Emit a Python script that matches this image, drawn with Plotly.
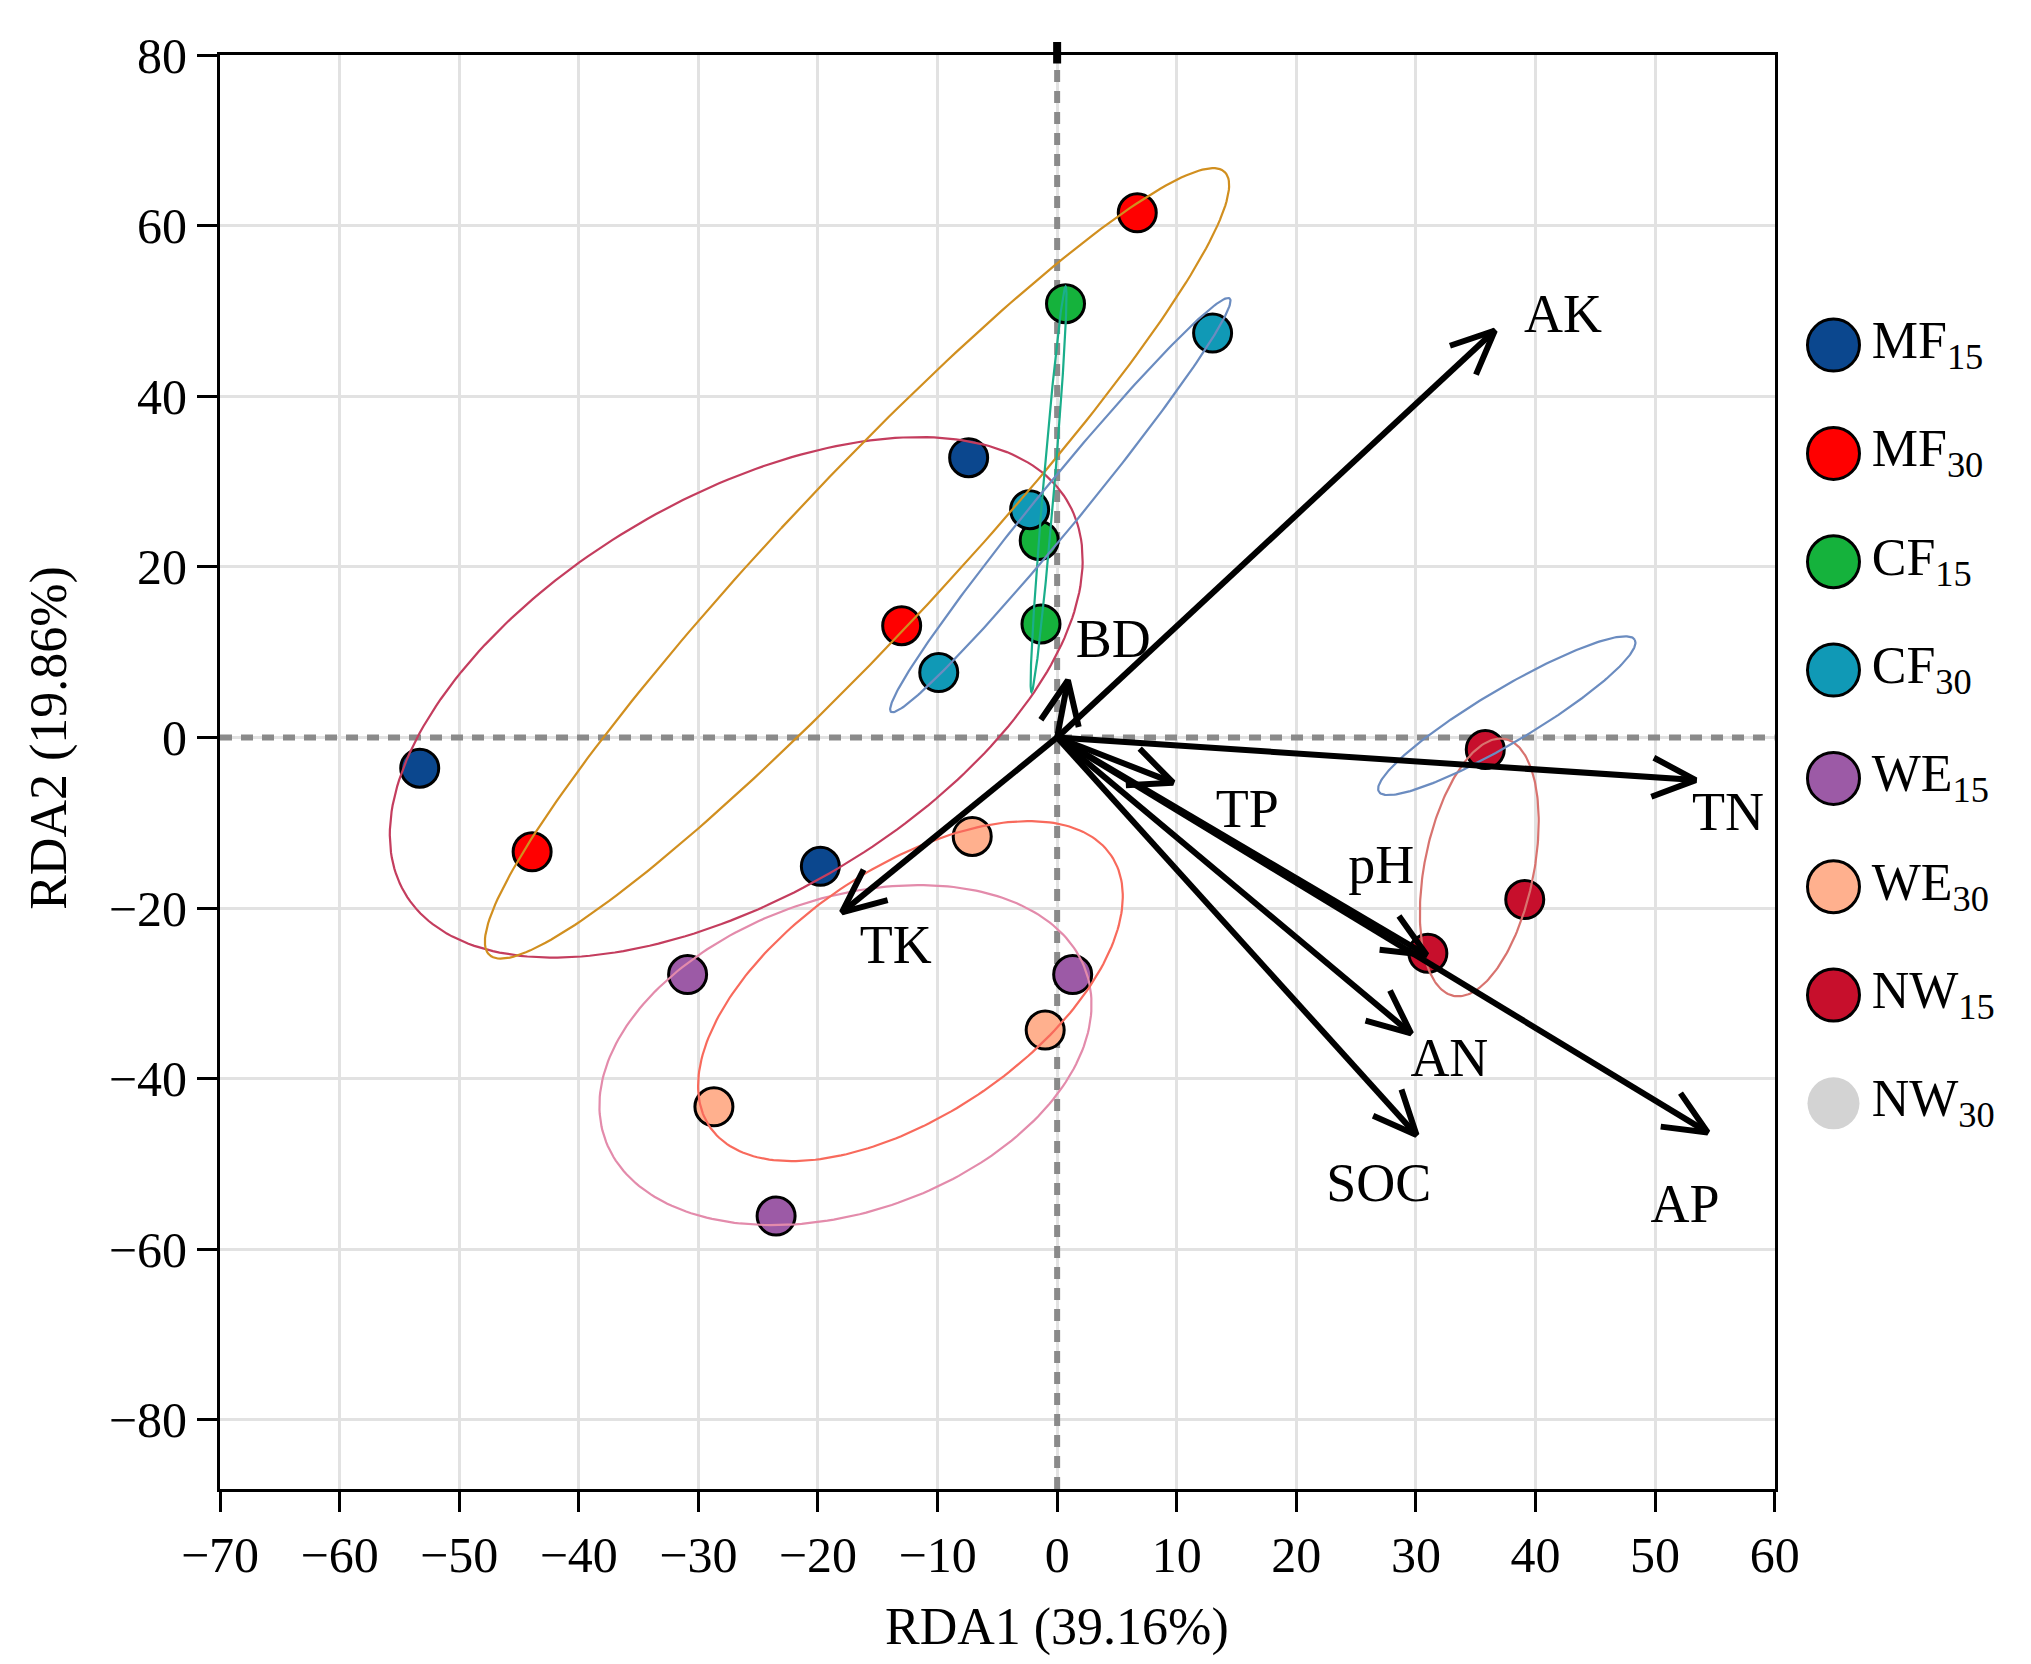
import numpy as np
import plotly.graph_objects as go

# sample scores on the first two RDA axes
groups = ["MF15", "MF30", "CF15", "CF30", "WE15", "WE30", "NW15", "NW30"]
legend_labels = ["MF<sub>15</sub>", "MF<sub>30</sub>", "CF<sub>15</sub>", "CF<sub>30</sub>",
                 "WE<sub>15</sub>", "WE<sub>30</sub>", "NW<sub>15</sub>", "NW<sub>30</sub>"]

mf15_x = [-53.3, -7.4, -19.8]
mf15_y = [-3.6, 32.8, -15.1]
mf30_x = [6.7, -13.0, -43.9]
mf30_y = [61.5, 13.1, -13.4]
cf15_x = [0.7, -1.5, -1.35]
cf15_y = [50.85, 23.1, 13.3]
cf30_x = [13.0, -2.3, -9.9]
cf30_y = [47.4, 26.7, 7.6]
we15_x = [-30.9, 1.3, -23.5]
we15_y = [-27.8, -27.8, -56.1]
we30_x = [-7.1, -1.0, -28.7]
we30_y = [-11.6, -34.3, -43.3]
nw15_x = [35.8, 39.1, 31.0]
nw15_y = [-1.4, -19.0, -25.3]

# NW30 samples are switched off in the figure, only its ellipse is drawn
nw30_center = [37.6, 2.55]
nw30_axes = [[10.7, 1.12], [8.9, -2.73]]

# environmental factor loadings (arrow tips) and label anchors
env_vars = ["AK", "TN", "AP", "SOC", "AN", "pH", "TP", "BD", "TK"]
env_rda1 = [36.6, 53.4, 54.4, 30.05, 29.6, 30.9, 9.7, 0.9, -18.0]
env_rda2 = [47.7, -5.0, -46.3, -46.6, -34.7, -25.5, -5.3, 6.7, -20.5]
label_rda1 = [42.3, 56.1, 52.5, 26.9, 32.8, 27.1, 15.9, 4.7, -13.5]
label_rda2 = [49.1, -9.3, -55.2, -52.7, -38.1, -15.5, -8.9, 11.0, -24.8]

x_ticks = list(range(-70, 61, 10))
y_ticks = list(range(-80, 81, 20))

pts = {
    "MF15": (mf15_x, mf15_y), "MF30": (mf30_x, mf30_y),
    "CF15": (cf15_x, cf15_y), "CF30": (cf30_x, cf30_y),
    "WE15": (we15_x, we15_y), "WE30": (we30_x, we30_y),
    "NW15": (nw15_x, nw15_y),
}

point_colors = {"MF15": "#0b478e", "MF30": "#ff0000", "CF15": "#15b23c", "CF30": "#1099b6",
                "WE15": "#9c5aa6", "WE30": "#ffb08e", "NW15": "#c70f2c", "NW30": "#d3d3d3"}
ellipse_colors = {"MF15": "#c43d5e", "MF30": "#d18f1f", "CF15": "#1aae8b", "CF30": "#6b8cc0",
                  "WE15": "#e38bab", "WE30": "#f86a5c", "NW15": "#d8736f", "NW30": "#6b8cc0"}

FONT = "Liberation Serif"
K = 1.22  # ellipse scale on the sample covariance

W, H = 2031, 1664
M_L, M_R, M_T, M_B = 212, 0, 47, 183
X_DOM = 0.8666
X_RANGE = [-70, 60]
Y_RANGE = [-88.1, 80]

# pixels per data unit, used to keep arrowheads undistorted
sx = X_DOM * (W - M_L - M_R) / (X_RANGE[1] - X_RANGE[0])
sy = (H - M_T - M_B) / (Y_RANGE[1] - Y_RANGE[0])


def ellipse(cx, cy, m, n=240):
    t = np.linspace(0, 2 * np.pi, n)
    p = np.asarray(m) @ np.vstack([np.cos(t), np.sin(t)])
    return cx + p[0], cy + p[1]


def cov_axes(x, y):
    vals, vecs = np.linalg.eigh(np.cov(x, y))
    return K * vecs @ np.diag(np.sqrt(np.clip(vals, 0, None)))


def arrow_path(tx, ty, head=48, half_angle=24):
    px, py = tx * sx, ty * sy
    ang = np.arctan2(py, px)
    xs, ys = [0, tx, None], [0, ty, None]
    for s in (1, -1):
        a = ang + np.pi + s * np.radians(half_angle)
        xs.append((px + head * np.cos(a)) / sx)
        ys.append((py + head * np.sin(a)) / sy)
        if s == 1:
            xs.append(tx)
            ys.append(ty)
    return xs, ys


fig = go.Figure()

# dashed zero lines
dash = dict(color="#8a8a8a", width=6, dash="12px,9px")
fig.add_trace(go.Scatter(x=[0, 0], y=Y_RANGE, mode="lines", showlegend=False,
                         hoverinfo="skip", line=dash))
fig.add_trace(go.Scatter(x=X_RANGE, y=[0, 0], mode="lines", showlegend=False,
                         hoverinfo="skip", line=dash))
fig.add_shape(type="line", xref="x", yref="paper", x0=0, x1=0, y0=0.994, y1=1.009,
              line=dict(color="black", width=8))

# sample points
for g in groups:
    if g not in pts:
        continue
    x, y = pts[g]
    fig.add_trace(go.Scatter(
        x=x, y=y, mode="markers", showlegend=False, name=g,
        marker=dict(size=38, color=point_colors[g], line=dict(color="black", width=3))))

# group ellipses (drawn over the points, as in the original)
for g in groups:
    if g in pts:
        x, y = pts[g]
        ex, ey = ellipse(np.mean(x), np.mean(y), cov_axes(x, y))
    else:
        ex, ey = ellipse(nw30_center[0], nw30_center[1], nw30_axes)
    fig.add_trace(go.Scatter(
        x=ex, y=ey, mode="lines", showlegend=False, hoverinfo="skip",
        line=dict(color=ellipse_colors[g], width=2.2)))

# environmental arrows
for v, t1, t2 in zip(env_vars, env_rda1, env_rda2):
    ax_, ay_ = arrow_path(t1, t2)
    fig.add_trace(go.Scatter(
        x=ax_, y=ay_, mode="lines", name=v, showlegend=False, hoverinfo="skip",
        line=dict(color="black", width=6)))

# arrow labels
fig.add_trace(go.Scatter(
    x=label_rda1, y=label_rda2, text=env_vars, mode="text", showlegend=False,
    textposition="middle center", textfont=dict(family=FONT, size=54, color="black")))

# custom legend on its own axis
leg_idx = list(range(len(groups)))
fig.add_trace(go.Scatter(
    x=[0.226] * len(groups), y=leg_idx, mode="markers", showlegend=False,
    xaxis="x2", yaxis="y2", hoverinfo="skip",
    marker=dict(size=52, color=[point_colors[g] for g in groups],
                line=dict(color=["black"] * 7 + ["rgba(0,0,0,0)"], width=3))))
fig.add_trace(go.Scatter(
    x=[0.39] * len(groups), y=leg_idx, text=legend_labels, mode="text",
    textposition="middle right", showlegend=False, xaxis="x2", yaxis="y2",
    hoverinfo="skip", textfont=dict(family=FONT, size=52, color="black")))

axis_style = dict(
    showgrid=True, gridcolor="#e2e2e2", gridwidth=2.5, zeroline=False,
    showline=True, linecolor="black", linewidth=3, mirror=True,
    ticks="outside", ticklen=20, tickwidth=3, tickcolor="black",
    tickfont=dict(family=FONT, size=50, color="black"))

fig.update_layout(
    width=W, height=H,
    margin=dict(l=M_L, r=M_R, t=M_T, b=M_B),
    plot_bgcolor="white", paper_bgcolor="white",
    showlegend=False,
    xaxis=dict(domain=[0, X_DOM], range=X_RANGE, tickvals=x_ticks, **axis_style),
    yaxis=dict(range=Y_RANGE, tickvals=y_ticks, **axis_style),
    xaxis2=dict(domain=[0.87, 1], range=[0, 1], visible=False, anchor="y2"),
    yaxis2=dict(domain=[0, 1], range=[10.56, -2.678], visible=False, anchor="x2"),
)

fig.add_annotation(text="RDA1 (39.16%)", xref="x", yref="paper", x=0, y=-0.0962,
                   showarrow=False, yanchor="middle",
                   font=dict(family=FONT, size=52, color="black"))
fig.add_annotation(text="RDA2 (19.86%)", xref="paper", yref="y", x=-0.0951, y=0,
                   showarrow=False, textangle=-90, xanchor="center",
                   font=dict(family=FONT, size=52, color="black"))

fig.write_html("out.html")
